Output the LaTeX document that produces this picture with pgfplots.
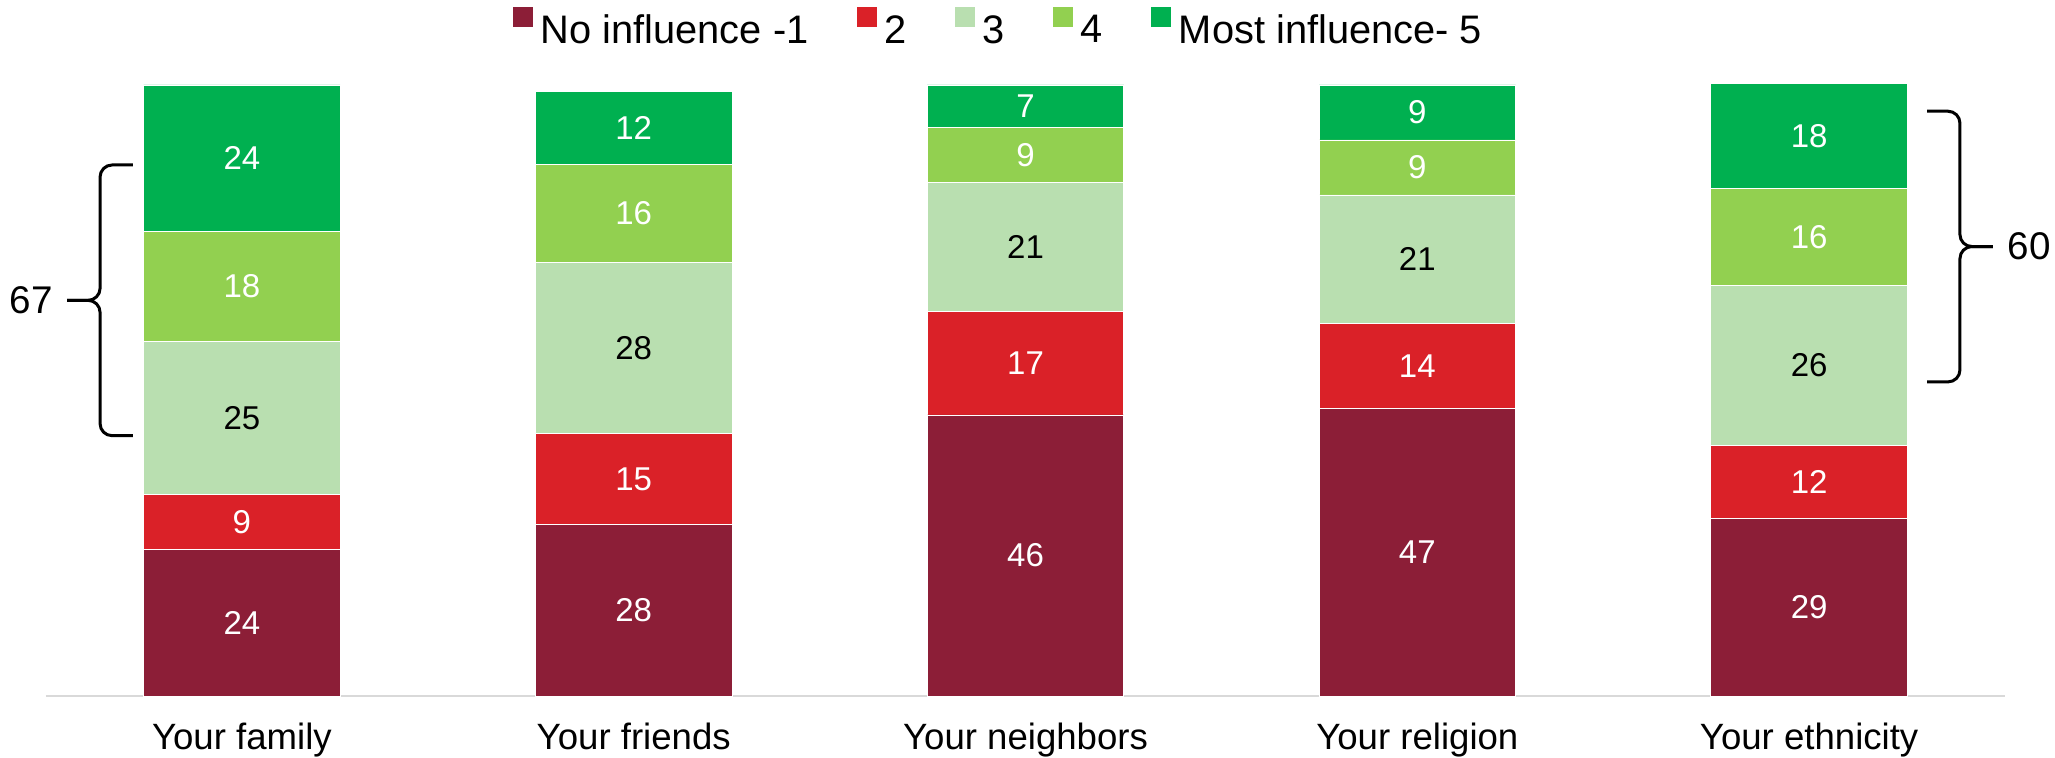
\documentclass[border=0pt]{standalone}
\usepackage{pgfplots}
\pgfplotsset{compat=1.18}
\usepackage{fontspec}
\setmainfont{Liberation Sans}
\definecolor{c1}{HTML}{8C1E37}
\definecolor{c2}{HTML}{DA2128}
\definecolor{c3}{HTML}{B9DFB0}
\definecolor{c4}{HTML}{92D050}
\definecolor{c5}{HTML}{00B050}
\begin{document}
\begin{tikzpicture}
\begin{axis}[
  name=ax,
  scale only axis,
  width=979.5pt, height=320.8pt,
  ybar stacked, bar width=98.3pt,
  xmin=-0.5, xmax=4.5, ymin=0, ymax=105,
  clip=false,
  hide y axis,
  axis x line*=bottom,
  x axis line style={-, draw=black!15, line width=1pt},
  xtick={0,1,2,3,4},
  xticklabels={Your family, Your friends, Your neighbors, Your religion, Your ethnicity},
  major tick length=0pt,
  xticklabel style={font=\fontsize{18.3}{21}\selectfont, anchor=base, yshift=-27pt},
  legend columns=5,
  legend style={draw=none, fill=none, at={(0.4867,1.040)}, anchor=center,
    font=\fontsize{19.9}{23}\selectfont,
    /tikz/every even column/.append style={column sep=22pt}},
  legend image code/.code={\fill[#1, draw=none] (0pt,2pt) rectangle (10pt,12pt);},
  point meta=explicit symbolic,
  nodes near coords,
  every node near coord/.style={anchor=center, text=white, font=\fontsize{16.5}{19}\selectfont},
]
\addplot[fill=c1, draw=white, line width=0.4pt] coordinates {(0,24) [24] (1,28) [28] (2,46) [46] (3,47) [47] (4,29) [29]};
\addplot[fill=c2, draw=white, line width=0.4pt] coordinates {(0,9) [9] (1,15) [15] (2,17) [17] (3,14) [14] (4,12) [12]};
\addplot[fill=c3, draw=white, line width=0.4pt, every node near coord/.append style={text=black}] coordinates {(0,25) [25] (1,28) [28] (2,21) [21] (3,21) [21] (4,26.2) [26]};
\addplot[fill=c4, draw=white, line width=0.4pt] coordinates {(0,18) [18] (1,16) [16] (2,9) [9] (3,9) [9] (4,15.8) [16]};
\addplot[fill=c5, draw=white, line width=0.4pt] coordinates {(0,24) [24] (1,12) [12] (2,7) [7] (3,9) [9] (4,17.2) [18]};
\legend{\hspace{2pt}No influence -1, \hspace{2pt}2, \hspace{2pt}3, \hspace{2pt}4, \hspace{2pt}Most influence- 5}
% left brace
\draw[line width=1.5pt, rounded corners=6pt] (axis cs:-0.278,86.9) -- (axis cs:-0.362,86.9) -- (axis cs:-0.362,64.75) -- (axis cs:-0.446,64.75);
\draw[line width=1.5pt, rounded corners=6pt] (axis cs:-0.278,42.6) -- (axis cs:-0.362,42.6) -- (axis cs:-0.362,64.75) -- (axis cs:-0.446,64.75);
\node[anchor=east, xshift=-3.7pt, font=\fontsize{19.3}{22}\selectfont] at (axis cs:-0.446,64.75) {67};
% right brace
\draw[line width=1.5pt, rounded corners=6pt] (axis cs:4.301,95.7) -- (axis cs:4.385,95.7) -- (axis cs:4.385,73.55) -- (axis cs:4.469,73.55);
\draw[line width=1.5pt, rounded corners=6pt] (axis cs:4.301,51.4) -- (axis cs:4.385,51.4) -- (axis cs:4.385,73.55) -- (axis cs:4.469,73.55);
\node[anchor=west, xshift=4pt, font=\fontsize{19.3}{22}\selectfont] at (axis cs:4.469,73.55) {60};
\end{axis}
\pgfresetboundingbox
\path[use as bounding box] ([xshift=-23pt,yshift=-31pt]ax.south west) rectangle ([xshift=25pt,yshift=27.2pt]ax.north east);
\end{tikzpicture}
\end{document}
